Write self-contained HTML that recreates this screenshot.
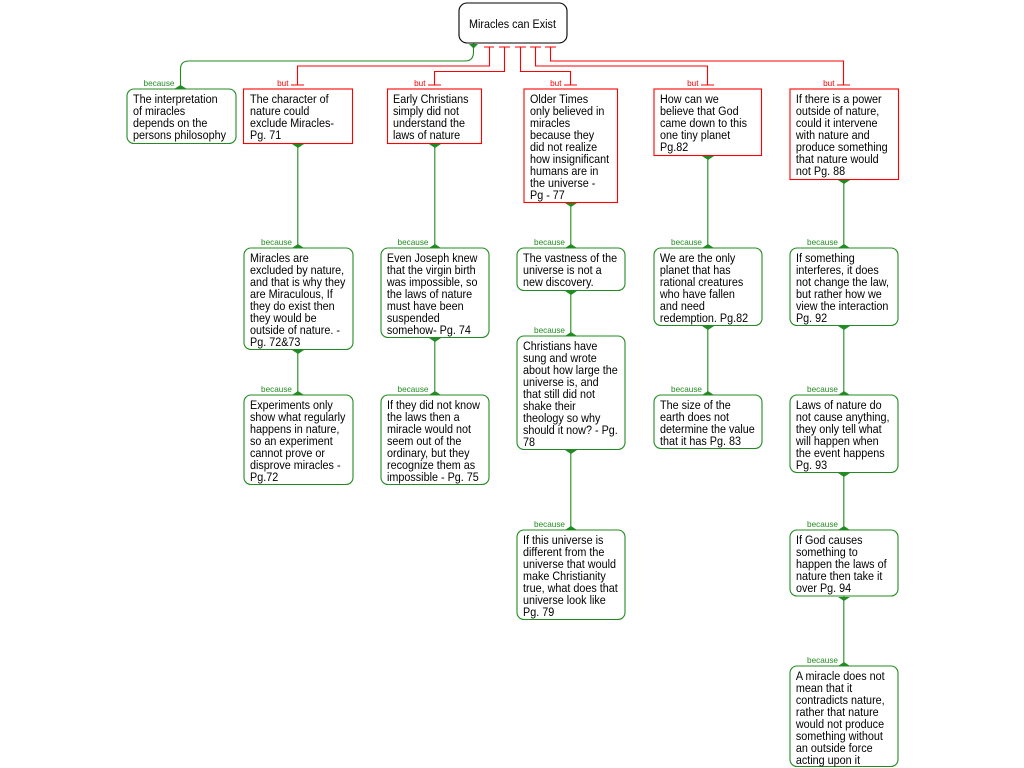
<!DOCTYPE html>
<html><head><meta charset="utf-8"><style>
html,body{margin:0;padding:0;background:#fff;width:1024px;height:768px;overflow:hidden}
svg{display:block}
text{font-family:"Liberation Sans",Arial,sans-serif}
.t{font-size:12px;fill:#000;transform-box:fill-box;transform-origin:0 0;transform:scaleX(.9)}
.g{font-size:8.2px;fill:#228b22;text-anchor:end}
.r{font-size:8.2px;fill:#ff0000;text-anchor:end}
.gb{fill:#fff;stroke:#228b22;stroke-width:1.1}
.rb{fill:#fff;stroke:#ff0000;stroke-width:1.1}
.gl{fill:none;stroke:#228b22;stroke-width:1.1}
.rl{fill:none;stroke:#ff0000;stroke-width:1.1}
.a{fill:#228b22}
</style></head><body>
<svg width="1024" height="768" viewBox="0 0 1024 768" xmlns="http://www.w3.org/2000/svg">
<!-- connectors -->
<path class="gl" d="M473.5 43V52Q473.5 61 465 61H189Q180.500 61 180.500 69V89"/>
<path class="rl" d="M489.5 47V66H297.5V85M484 47H494M291 85H304"/>
<path class="rl" d="M504.5 47V71.500H434.5V85M499 47H510M428 85H441"/>
<path class="rl" d="M520.5 47V71.500H570.500V85M515 47H526M564 85H577"/>
<path class="rl" d="M535.5 47V66H707.500V85M530 47H541M701 85H714"/>
<path class="rl" d="M550.5 47V61H843.500V85M545 47H556M837 85H850"/>
<path class="gl" transform="translate(.3,0)" d="M297.500 143V248M297.500 349V395M434.500 143V248M434.500 337V395M570.500 202V248M570.500 290V336M570.500 449V530M707.500 155V248M707.500 325V395M843.500 179V248M843.500 325V395M843.500 472V530M843.500 596V666"/>
<!-- boxes -->
<rect x="459" y="3" width="108" height="40" rx="8" fill="#fff" stroke="#000" stroke-width="1.1"/>
<rect class="gb" x="127" y="89" width="109" height="54.500" rx="7"/>
<rect class="rb" x="243.500" y="89" width="109" height="54.500"/>
<rect class="rb" x="387.500" y="89" width="94" height="54.500"/>
<rect class="rb" x="524" y="89" width="93.500" height="113.500"/>
<rect class="rb" x="654" y="89" width="107.500" height="66.500"/>
<rect class="rb" x="790" y="89" width="108.500" height="90.500"/>
<rect class="gb" x="244" y="248" width="109" height="101.500" rx="7"/>
<rect class="gb" x="244" y="395" width="109" height="89.500" rx="7"/>
<rect class="gb" x="381" y="248" width="108" height="89.500" rx="7"/>
<rect class="gb" x="381" y="395" width="108" height="89.500" rx="7"/>
<rect class="gb" x="517" y="248" width="108" height="42.500" rx="7"/>
<rect class="gb" x="517" y="336" width="108" height="113.500" rx="7"/>
<rect class="gb" x="517" y="530" width="108" height="89.500" rx="7"/>
<rect class="gb" x="654" y="248" width="108" height="77.500" rx="7"/>
<rect class="gb" x="654" y="395" width="108" height="53.500" rx="7"/>
<rect class="gb" x="790" y="248" width="108" height="77.500" rx="7"/>
<rect class="gb" x="790" y="395" width="108" height="77.500" rx="7"/>
<rect class="gb" x="790" y="530" width="108" height="66" rx="7"/>
<rect class="gb" x="790" y="666" width="108" height="100.500" rx="7"/>
<!-- arrow markers -->
<path class="a" d="M469 44h9l-4.500 4.500zM174 89h13l-6.500-4z"/>
<path class="a" d="M292 144h12l-6 4zM292 248h12l-6-4zM292 350h12l-6 4zM292 395h12l-6-4z"/>
<path class="a" d="M429 144h12l-6 4zM429 248h12l-6-4zM429 338h12l-6 4zM429 395h12l-6-4z"/>
<path class="a" d="M565 203h12l-6 4zM565 248h12l-6-4zM565 291h12l-6 4zM565 336h12l-6-4zM565 450h12l-6 4zM565 530h12l-6-4z"/>
<path class="a" d="M702 156h12l-6 4zM702 248h12l-6-4zM702 326h12l-6 4zM702 395h12l-6-4z"/>
<path class="a" d="M838 180h12l-6 4zM838 248h12l-6-4zM838 326h12l-6 4zM838 395h12l-6-4zM838 473h12l-6 4zM838 530h12l-6-4zM838 597h12l-6 4zM838 666h12l-6-4z"/>
<!-- connector labels -->
<text class="g" x="174.500" y="86">because</text>
<text class="r" x="288.500" y="86">but</text>
<text class="r" x="425.500" y="86">but</text>
<text class="r" x="561.500" y="86">but</text>
<text class="r" x="698.500" y="86">but</text>
<text class="r" x="834.500" y="86">but</text>
<text class="g" x="292" y="245">because</text>
<text class="g" x="292" y="392">because</text>
<text class="g" x="428.500" y="245">because</text>
<text class="g" x="428.500" y="392">because</text>
<text class="g" x="565" y="245">because</text>
<text class="g" x="565" y="333">because</text>
<text class="g" x="565" y="527">because</text>
<text class="g" x="702" y="245">because</text>
<text class="g" x="702" y="392">because</text>
<text class="g" x="838" y="245">because</text>
<text class="g" x="838" y="392">because</text>
<text class="g" x="838" y="527">because</text>
<text class="g" x="838" y="663">because</text>
<!-- node text -->
<text class="t" x="469" y="28">Miracles can Exist</text>
<text class="t"><tspan x="133" y="103">The interpretation</tspan><tspan x="133" dy="12">of miracles</tspan><tspan x="133" dy="12">depends on the</tspan><tspan x="133" dy="12">persons philosophy</tspan></text>
<text class="t"><tspan x="250" y="103">The character of</tspan><tspan x="250" dy="12">nature could</tspan><tspan x="250" dy="12">exclude Miracles-</tspan><tspan x="250" dy="12">Pg. 71</tspan></text>
<text class="t"><tspan x="393" y="103">Early Christians</tspan><tspan x="393" dy="12">simply did not</tspan><tspan x="393" dy="12">understand the</tspan><tspan x="393" dy="12">laws of nature</tspan></text>
<text class="t"><tspan x="530" y="103">Older Times</tspan><tspan x="530" dy="12">only believed in</tspan><tspan x="530" dy="12">miracles</tspan><tspan x="530" dy="12">because they</tspan><tspan x="530" dy="12">did not realize</tspan><tspan x="530" dy="12">how insignificant</tspan><tspan x="530" dy="12">humans are in</tspan><tspan x="530" dy="12">the universe -</tspan><tspan x="530" dy="12">Pg - 77</tspan></text>
<text class="t"><tspan x="660" y="103">How can we</tspan><tspan x="660" dy="12">believe that God</tspan><tspan x="660" dy="12">came down to this</tspan><tspan x="660" dy="12">one tiny planet</tspan><tspan x="660" dy="12">Pg.82</tspan></text>
<text class="t"><tspan x="796" y="103">If there is a power</tspan><tspan x="796" dy="12">outside of nature,</tspan><tspan x="796" dy="12">could it intervene</tspan><tspan x="796" dy="12">with nature and</tspan><tspan x="796" dy="12">produce something</tspan><tspan x="796" dy="12">that nature would</tspan><tspan x="796" dy="12">not Pg. 88</tspan></text>
<text class="t"><tspan x="250" y="262">Miracles are</tspan><tspan x="250" dy="12">excluded by nature,</tspan><tspan x="250" dy="12">and that is why they</tspan><tspan x="250" dy="12">are Miraculous, If</tspan><tspan x="250" dy="12">they do exist then</tspan><tspan x="250" dy="12">they would be</tspan><tspan x="250" dy="12">outside of nature. -</tspan><tspan x="250" dy="12">Pg. 72&amp;73</tspan></text>
<text class="t"><tspan x="250" y="409">Experiments only</tspan><tspan x="250" dy="12">show what regularly</tspan><tspan x="250" dy="12">happens in nature,</tspan><tspan x="250" dy="12">so an experiment</tspan><tspan x="250" dy="12">cannot prove or</tspan><tspan x="250" dy="12">disprove miracles -</tspan><tspan x="250" dy="12">Pg.72</tspan></text>
<text class="t"><tspan x="387" y="262">Even Joseph knew</tspan><tspan x="387" dy="12">that the virgin birth</tspan><tspan x="387" dy="12">was impossible, so</tspan><tspan x="387" dy="12">the laws of nature</tspan><tspan x="387" dy="12">must have been</tspan><tspan x="387" dy="12">suspended</tspan><tspan x="387" dy="12">somehow- Pg. 74</tspan></text>
<text class="t"><tspan x="387" y="409">If they did not know</tspan><tspan x="387" dy="12">the laws then a</tspan><tspan x="387" dy="12">miracle would not</tspan><tspan x="387" dy="12">seem out of the</tspan><tspan x="387" dy="12">ordinary, but they</tspan><tspan x="387" dy="12">recognize them as</tspan><tspan x="387" dy="12">impossible - Pg. 75</tspan></text>
<text class="t"><tspan x="523" y="262">The vastness of the</tspan><tspan x="523" dy="12">universe is not a</tspan><tspan x="523" dy="12">new discovery.</tspan></text>
<text class="t"><tspan x="523" y="350">Christians have</tspan><tspan x="523" dy="12">sung and wrote</tspan><tspan x="523" dy="12">about how large the</tspan><tspan x="523" dy="12">universe is, and</tspan><tspan x="523" dy="12">that still did not</tspan><tspan x="523" dy="12">shake their</tspan><tspan x="523" dy="12">theology so why</tspan><tspan x="523" dy="12">should it now? - Pg.</tspan><tspan x="523" dy="12">78</tspan></text>
<text class="t"><tspan x="523" y="544">If this universe is</tspan><tspan x="523" dy="12">different from the</tspan><tspan x="523" dy="12">universe that would</tspan><tspan x="523" dy="12">make Christianity</tspan><tspan x="523" dy="12">true, what does that</tspan><tspan x="523" dy="12">universe look like</tspan><tspan x="523" dy="12">Pg. 79</tspan></text>
<text class="t"><tspan x="660" y="262">We are the only</tspan><tspan x="660" dy="12">planet that has</tspan><tspan x="660" dy="12">rational creatures</tspan><tspan x="660" dy="12">who have fallen</tspan><tspan x="660" dy="12">and need</tspan><tspan x="660" dy="12">redemption. Pg.82</tspan></text>
<text class="t"><tspan x="660" y="409">The size of the</tspan><tspan x="660" dy="12">earth does not</tspan><tspan x="660" dy="12">determine the value</tspan><tspan x="660" dy="12">that it has Pg. 83</tspan></text>
<text class="t"><tspan x="796" y="262">If something</tspan><tspan x="796" dy="12">interferes, it does</tspan><tspan x="796" dy="12">not change the law,</tspan><tspan x="796" dy="12">but rather how we</tspan><tspan x="796" dy="12">view the interaction</tspan><tspan x="796" dy="12">Pg. 92</tspan></text>
<text class="t"><tspan x="796" y="409">Laws of nature do</tspan><tspan x="796" dy="12">not cause anything,</tspan><tspan x="796" dy="12">they only tell what</tspan><tspan x="796" dy="12">will happen when</tspan><tspan x="796" dy="12">the event happens</tspan><tspan x="796" dy="12">Pg. 93</tspan></text>
<text class="t"><tspan x="796" y="544">If God causes</tspan><tspan x="796" dy="12">something to</tspan><tspan x="796" dy="12">happen the laws of</tspan><tspan x="796" dy="12">nature then take it</tspan><tspan x="796" dy="12">over Pg. 94</tspan></text>
<text class="t"><tspan x="796" y="680">A miracle does not</tspan><tspan x="796" dy="12">mean that it</tspan><tspan x="796" dy="12">contradicts nature,</tspan><tspan x="796" dy="12">rather that nature</tspan><tspan x="796" dy="12">would not produce</tspan><tspan x="796" dy="12">something without</tspan><tspan x="796" dy="12">an outside force</tspan><tspan x="796" dy="12">acting upon it</tspan></text>
</svg>
</body></html>
